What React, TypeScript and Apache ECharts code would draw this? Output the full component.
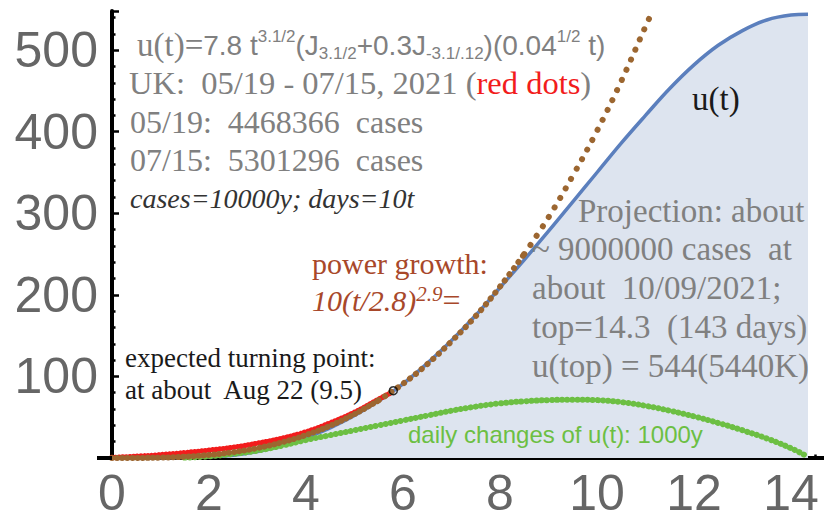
import React, { useEffect, useRef } from 'react';
import * as echarts from 'echarts';

// u(t) fitted curve (blue)
const tBlue = [0, 0.5, 1, 1.5, 2, 2.5, 3, 3.5, 4, 4.5, 5, 5.5, 6, 6.5, 7, 7.5, 8, 8.5, 9, 9.5, 10, 10.5, 11, 11.5, 12, 12.5, 13, 13.5, 14, 14.35];
const uBlue = [0, 0, 0.1, 0.5, 1.5, 3.5, 8, 15, 25, 37, 52, 70, 91, 116, 144, 175, 209, 243, 278, 314, 350, 386, 420, 453, 482, 506, 524, 537, 543, 544];

// UK data (red dots)
const tRed = [0, 0.5, 1, 1.5, 2, 2.5, 3, 3.5, 4, 4.5, 5, 5.5, 5.75];
const yRed = [0.5, 2, 4, 6.5, 9.5, 13, 18, 24, 32, 43, 56, 72, 80];

// daily changes of u(t) (green)
const tGreen = [1.5, 2, 2.5, 3, 3.5, 4, 4.5, 5, 5.5, 6, 6.5, 7, 7.5, 8, 8.5, 9, 9.5, 10, 10.5, 11, 11.5, 12, 12.5, 13, 13.5, 14, 14.3];
const yGreen = [0.5, 2, 5, 9, 15, 22, 28, 34, 40, 46, 52, 58, 63, 67, 69.5, 71, 71.5, 71, 68.5, 64, 58, 51, 43, 34, 24, 12, 3];

// power growth (brown dots)
const tBrown = [0, 0.5, 1, 1.5, 2, 2.5, 3, 3.5, 4, 4.5, 5, 5.5, 6, 6.5, 7, 7.5, 8, 8.5, 9, 9.5, 10, 10.5, 11, 11.1];
const yBrown = [0, 0.07, 0.5, 1.6, 3.8, 7.2, 12.2, 19.1, 28.1, 39.6, 53.8, 70.8, 91, 115, 143, 174, 210, 250, 295, 346, 401, 462, 529, 542];

// last data point marker
const lastPoint = [5.8, 82.5];

const GREY = '#808080';
const BROWN_TXT = '#a8482a';
const SERIF = '"Liberation Serif", "Times New Roman", serif';
const SANS = '"Liberation Sans", Arial, sans-serif';

const pairs = (xs: number[], ys: number[]) => xs.map((x, i) => [x, ys[i]]);
const brownSeg = (a: number, b: number) => pairs(tBrown, yBrown).filter((p) => p[0] >= a && p[0] <= b);

const txt = (x: number, y: number, text: string, style: any) => ({
  type: 'text',
  x,
  y,
  z: 100,
  silent: true,
  style: { text, align: 'left', verticalAlign: 'middle', ...style },
});

export default function App() {
  const ref = useRef<HTMLDivElement>(null);
  useEffect(() => {
    if (!ref.current) return;
    const chart = echarts.init(ref.current, undefined, { renderer: 'svg' });
    const brownLine = (data: number[][], gap: number) => ({
      type: 'line',
      data,
      showSymbol: false,
      symbol: 'none',
      smooth: 0.4,
      z: 5,
      lineStyle: { color: '#9c6630', width: 6, type: [0.1, gap], cap: 'round' },
    });
    const option: any = {
      animation: false,
      grid: { left: 112, top: 11, width: 727.5, height: 447, outerBoundsMode: 'none', containLabel: false },
      xAxis: {
        type: 'value',
        min: 0,
        max: 15,
        interval: 2,
        axisLine: { show: true, onZero: false, lineStyle: { color: '#000', width: 4 } },
        axisTick: { show: true, inside: true, length: 7, lineStyle: { color: '#000', width: 2.5 } },
        minorTick: { show: true, splitNumber: 4, length: 3.5, lineStyle: { color: '#000', width: 2.5 } },
        splitLine: { show: false },
        axisLabel: {
          fontSize: 50,
          color: '#666',
          fontFamily: SANS,
          margin: 10,
          formatter: (v: number) => (v % 2 === 0 && v <= 14 ? String(v) : ''),
        },
      },
      yAxis: {
        type: 'value',
        min: 0,
        max: 548,
        interval: 100,
        axisLine: { show: true, onZero: false, lineStyle: { color: '#000', width: 4 } },
        axisTick: { show: true, inside: true, length: 7, lineStyle: { color: '#000', width: 2.5 } },
        minorTick: { show: true, splitNumber: 5, length: 3.5, lineStyle: { color: '#000', width: 2.5 } },
        splitLine: { show: false },
        axisLabel: {
          fontSize: 50,
          color: '#666',
          fontFamily: SANS,
          margin: 14,
          formatter: (v: number) => (v > 0 && v % 100 === 0 ? String(v) : ''),
        },
      },
      series: [
        {
          type: 'line',
          data: pairs(tBlue, uBlue),
          showSymbol: false,
          symbol: 'none',
          smooth: 0.4,
          z: 1,
          lineStyle: { color: '#5b7fbd', width: 3.5 },
          areaStyle: { color: '#dde4ef', opacity: 1 },
        },
        {
          type: 'line',
          data: pairs(tRed, yRed),
          showSymbol: false,
          symbol: 'none',
          smooth: 0.4,
          z: 3,
          lineStyle: { color: '#f21c1c', width: 5.5, type: [0.1, 3.5], cap: 'round' },
        },
        {
          type: 'line',
          data: pairs(tGreen, yGreen),
          showSymbol: false,
          symbol: 'none',
          smooth: 0.4,
          z: 4,
          lineStyle: { color: '#6cbf43', width: 6, type: [0.1, 5], cap: 'round' },
        },
        brownLine(brownSeg(0, 5.5), 5),
        brownLine(brownSeg(5.5, 8.5), 7.5),
        brownLine(brownSeg(8.5, 11.1), 11),
        {
          type: 'scatter',
          data: [lastPoint],
          symbol: 'circle',
          symbolSize: 8,
          z: 6,
          itemStyle: { color: 'rgba(0,0,0,0)', borderColor: '#000', borderWidth: 1.5 },
        },
      ],
      graphic: [
        { type: 'line', z: 50, silent: true, shape: { x1: 97, y1: 458, x2: 112, y2: 458 }, style: { stroke: '#000', lineWidth: 4 } },
        txt(137, 45, '{s|u(t)=}{m|7.8 t}{p|3.1/2}{m|(J}{b|3.1/2}{m|+0.3J}{b|-3.1/.12}{m|)(0.04}{p|1/2}{m| t)}', {
          rich: {
            s: { fontFamily: SERIF, fontSize: 33, fill: GREY, lineHeight: 34 },
            m: { fontFamily: SANS, fontSize: 28, fill: GREY, lineHeight: 34 },
            p: { fontFamily: SANS, fontSize: 17, fill: GREY, lineHeight: 14, verticalAlign: 'top' },
            b: { fontFamily: SANS, fontSize: 17, fill: GREY, lineHeight: 14, verticalAlign: 'bottom' },
          },
        }),
        txt(129, 83, '{g|UK:  05/19 - 07/15, 2021 (}{r|red dots}{g|)}', {
          rich: {
            g: { fontFamily: SERIF, fontSize: 32.5, fill: GREY, lineHeight: 32 },
            r: { fontFamily: SERIF, fontSize: 32.5, fill: '#f21c1c', lineHeight: 32 },
          },
        }),
        txt(130, 122, '05/19:  4468366  cases', { font: `32px ${SERIF}`, fill: GREY }),
        txt(130, 160, '07/15:  5301296  cases', { font: `32px ${SERIF}`, fill: GREY }),
        txt(130, 198, 'cases=10000y; days=10t', { font: `italic 28px ${SERIF}`, fill: '#333' }),
        txt(692, 99, 'u(t)', { font: `33px ${SERIF}`, fill: '#1a1a1a' }),
        txt(312, 263, 'power growth:', { font: `30px ${SERIF}`, fill: BROWN_TXT }),
        txt(312, 300, '{i|10(t/2.8)}{p|2.9}{e|=}', {
          rich: {
            i: { fontFamily: SERIF, fontStyle: 'italic', fontSize: 30, fill: BROWN_TXT, lineHeight: 34 },
            p: { fontFamily: SERIF, fontStyle: 'italic', fontSize: 21, fill: BROWN_TXT, lineHeight: 20, verticalAlign: 'top' },
            e: { fontFamily: SERIF, fontSize: 32, fill: BROWN_TXT, lineHeight: 34 },
          },
        }),
        txt(125, 358, 'expected turning point:', { font: `27px ${SERIF}`, fill: '#1a1a1a' }),
        txt(125, 390, 'at about  Aug 22 (9.5)', { font: `27px ${SERIF}`, fill: '#1a1a1a' }),
        txt(578, 211, 'Projection: about', { font: `33px ${SERIF}`, fill: GREY }),
        txt(532, 249, '~ 9000000 cases  at', { font: `33px ${SERIF}`, fill: GREY }),
        txt(532, 288, 'about  10/09/2021;', { font: `33px ${SERIF}`, fill: GREY }),
        txt(532, 327, 'top=14.3  (143 days)', { font: `33px ${SERIF}`, fill: GREY }),
        txt(532, 366, 'u(top) = 544(5440K)', { font: `33px ${SERIF}`, fill: GREY }),
        txt(408, 434, 'daily changes of u(t): 1000y', { font: `24px ${SANS}`, fill: '#6cbf43' }),
      ],
    };
    chart.setOption(option);
    return () => chart.dispose();
  }, []);
  return (
    <div
      ref={ref}
      style={{ position: 'absolute', left: 0, top: 0, width: 824, height: 521, background: '#fff' }}
    />
  );
}
